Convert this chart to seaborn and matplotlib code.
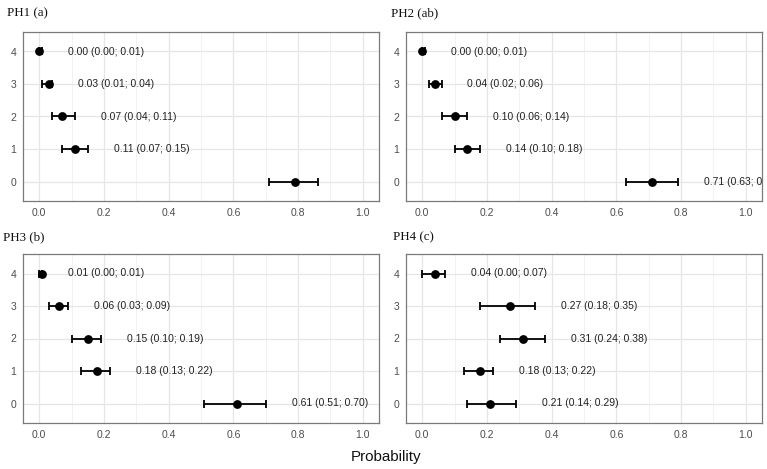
import matplotlib
matplotlib.use("Agg")
import matplotlib.pyplot as plt
import seaborn as sns
import pandas as pd
import numpy as np

# categories on the y axis, data listed for 0..4
categories = [0, 1, 2, 3, 4]
panels = ['PH1 (a)', 'PH2 (ab)', 'PH3 (b)', 'PH4 (c)']

ph1_est = [0.79, 0.11, 0.07, 0.03, 0.00]
ph1_lo = [0.71, 0.07, 0.04, 0.01, 0.00]
ph1_hi = [0.86, 0.15, 0.11, 0.04, 0.01]

ph2_est = [0.71, 0.14, 0.10, 0.04, 0.00]
ph2_lo = [0.63, 0.10, 0.06, 0.02, 0.00]
ph2_hi = [0.79, 0.18, 0.14, 0.06, 0.01]

ph3_est = [0.61, 0.18, 0.15, 0.06, 0.01]
ph3_lo = [0.51, 0.13, 0.10, 0.03, 0.00]
ph3_hi = [0.70, 0.22, 0.19, 0.09, 0.01]

ph4_est = [0.21, 0.18, 0.31, 0.27, 0.04]
ph4_lo = [0.14, 0.13, 0.24, 0.18, 0.00]
ph4_hi = [0.29, 0.22, 0.38, 0.35, 0.07]

# the first panel has no label for category 0 in the original
hidden_labels = [('PH1 (a)', 0)]

xticks = [0.0, 0.2, 0.4, 0.6, 0.8, 1.0]


def creat_df():
    rows = []
    series = [(ph1_est, ph1_lo, ph1_hi), (ph2_est, ph2_lo, ph2_hi),
              (ph3_est, ph3_lo, ph3_hi), (ph4_est, ph4_lo, ph4_hi)]
    for name, (est, lo, hi) in zip(panels, series):
        for c, e, l, h in zip(categories, est, lo, hi):
            rows.append([name, c, e, l, h])
    return pd.DataFrame(rows, columns=['panel', 'cat', 'est', 'lo', 'hi'])


def draw_panel(ax, d, name):
    ax.errorbar(d['est'], d['cat'], xerr=[d['est'] - d['lo'], d['hi'] - d['est']],
                fmt='none', ecolor='black', elinewidth=1.3, capsize=2.6, capthick=1.3, zorder=3)
    sns.scatterplot(x='est', y='cat', data=d, ax=ax, color='black', s=40,
                    edgecolor='black', linewidth=0, zorder=4, legend=False)
    for _, r in d.iterrows():
        if (name, r['cat']) in hidden_labels:
            continue
        ax.text(r['hi'] + 0.08, r['cat'], '%.2f (%.2f; %.2f)' % (r['est'], r['lo'], r['hi']),
                ha='left', va='center', fontsize=7.5, color='#222222', clip_on=True,
                family='Liberation Sans')
    ax.set_xlim(-0.05, 1.05)
    ax.set_ylim(-0.6, 4.6)
    ax.set_xticks(xticks)
    ax.set_xticklabels(['%.1f' % t for t in xticks])
    ax.set_xticks([0.1, 0.3, 0.5, 0.7, 0.9], minor=True)
    ax.set_yticks(categories)
    ax.set_yticklabels([str(c) for c in categories])
    ax.grid(True, which='major', color='#E6E6E6', linewidth=0.9, zorder=0)
    ax.grid(True, which='minor', axis='x', color='#F0F0F0', linewidth=0.6, zorder=0)
    ax.set_axisbelow(True)
    ax.tick_params(axis='both', which='major', length=3, width=0.8, color='#666666',
                   labelcolor='#4D4D4D', labelsize=7.5, pad=2)
    ax.tick_params(axis='x', which='minor', length=0)
    for s in ax.spines.values():
        s.set_color('#7A7A7A')
        s.set_linewidth(0.9)
    ax.set_xlabel('')
    ax.set_ylabel('')


def draw_figure():
    sns.set_style('white')
    plt.rcParams['font.family'] = ['Liberation Sans', 'DejaVu Sans']
    df = creat_df()

    fig = plt.figure(figsize=(7.67, 4.69), dpi=100)
    W, H = 767.0, 469.0
    boxes = [(23, 32), (406, 32), (23, 254), (406, 254)]
    title_pos = [(7, 13), (391, 13), (3, 237), (393, 237)]
    for name, (l, t), (tx, ty) in zip(panels, boxes, title_pos):
        ax = fig.add_axes([l / W, 1 - (t + 169) / H, 356 / W, 169 / H])
        draw_panel(ax, df[df['panel'] == name], name)
        fig.text(tx / W, 1 - ty / H, name, ha='left', va='center', fontsize=9.3,
                 family='Liberation Serif', color='#111111')

    fig.text(386.5 / W, 1 - 457 / H, 'Probability', ha='center', va='center',
             fontsize=10.9, color='#111111')
    fig.savefig('out.png', dpi=100)
    plt.close(fig)


if __name__ == '__main__':
    draw_figure()
